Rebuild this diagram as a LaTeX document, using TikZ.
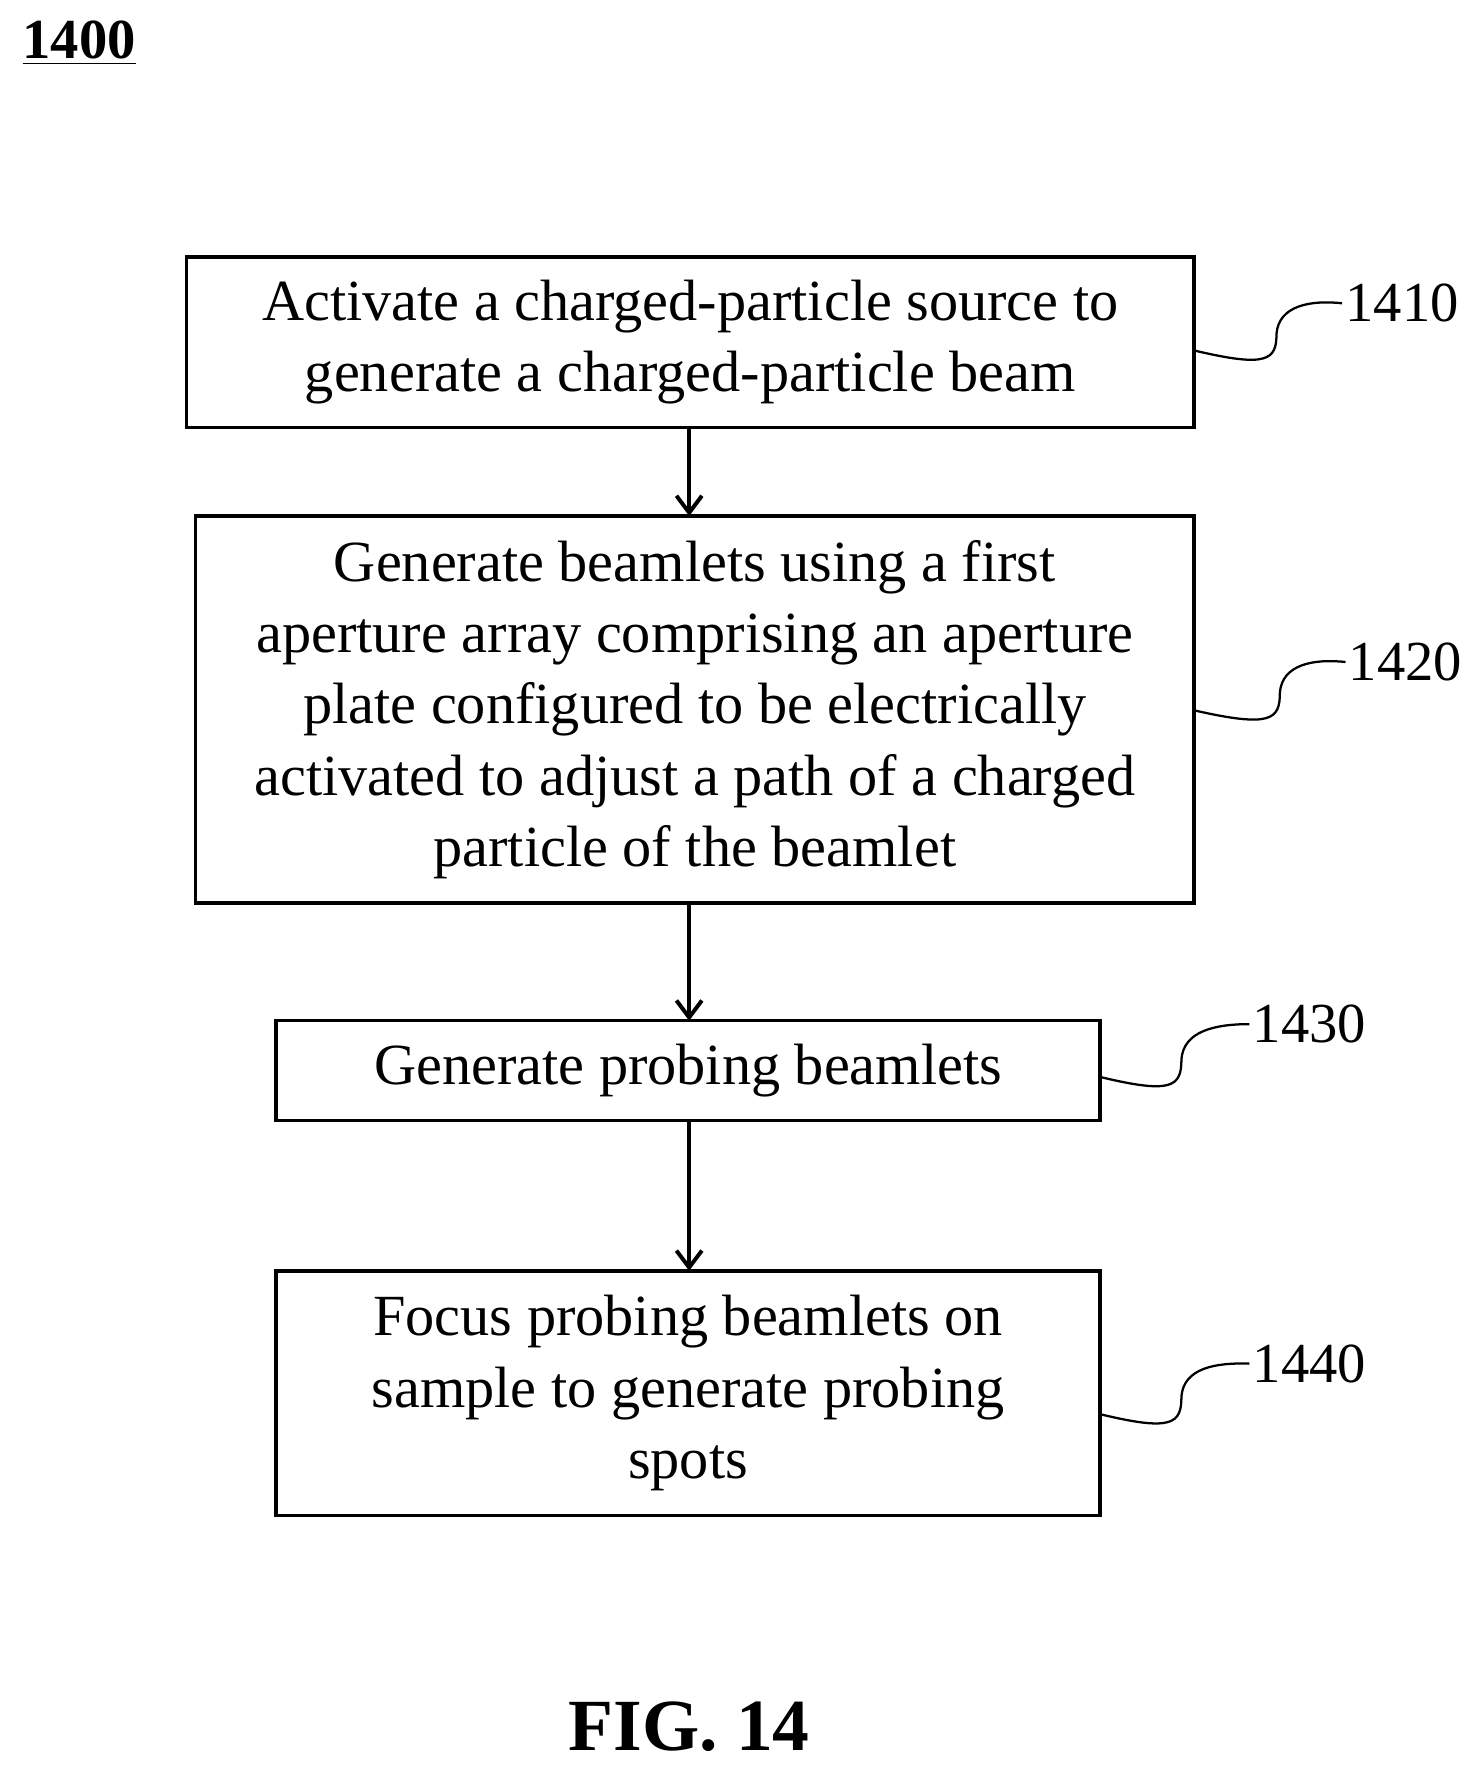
\documentclass[tikz,border=0pt]{standalone}
\usepackage{fontspec}
\usetikzlibrary{arrows.meta}
\setmainfont{Liberation Serif}
\begin{document}
\begin{tikzpicture}[x=0.4pt,y=-0.4pt,
  box/.style={draw,line width=1.2pt,inner sep=0pt},
  txt/.style={font=\fontsize{20.6}{25.2}\selectfont,align=center},
  lab/.style={font=\fontsize{20}{24}\selectfont,anchor=west,inner sep=1pt},
  arr/.style={-{Straight Barb[length=6pt,width=9pt]},line width=1.4pt},
  sq/.style={line width=0.8pt}]
\useasboundingbox (0,0) rectangle (1310,1565);
\node[box,minimum width=890*0.4pt,minimum height=151*0.4pt] (b1) at (610,302.5) {};
\node[txt] at (b1.center) {Activate a charged-particle source to\\generate a charged-particle beam};
\node[box,minimum width=882*0.4pt,minimum height=342*0.4pt] (b2) at (614,627) {};
\node[txt] at (b2.center) {Generate beamlets using a first\\aperture array comprising an aperture\\plate configured to be electrically\\activated to adjust a path of a charged\\particle of the beamlet};
\node[box,minimum width=728*0.4pt,minimum height=88*0.4pt] (b3) at (608,946) {};
\node[txt] at (b3.center) {Generate probing beamlets};
\node[box,minimum width=728*0.4pt,minimum height=216*0.4pt] (b4) at (608,1231) {};
\node[txt] at (b4.center) {Focus probing beamlets on\\sample to generate probing\\spots};
\coordinate (a1) at (609,378); \coordinate (a2) at (609,456);
\coordinate (a3) at (609,798); \coordinate (a4) at (609,902);
\coordinate (a5) at (609,990); \coordinate (a6) at (609,1123);
\draw[arr] (a1) -- (a2);
\draw[arr] (a3) -- (a4);
\draw[arr] (a5) -- (a6);
\node[lab] (l1) at (1186,268) {1410};
\node[lab] (l2) at (1189,585) {1420};
\node[lab] (l3) at (1104,905) {1430};
\node[lab] (l4) at (1104,1205) {1440};
\draw[sq] (b1.east|-0,310) .. controls (1120,325) and (1128,318) .. (1128,295) .. controls (1130,270) and (1158,265) .. (l1.west);
\draw[sq] (b2.east|-0,628) .. controls (1123,643) and (1131,636) .. (1131,612) .. controls (1133,587) and (1161,582) .. (l2.west);
\draw[sq] (b3.east|-0,952) .. controls (1036,967) and (1044,960) .. (1044,936) .. controls (1046,911) and (1074,905) .. (l3.west);
\draw[sq] (b4.east|-0,1250) .. controls (1036,1265) and (1044,1258) .. (1044,1234) .. controls (1046,1209) and (1074,1204) .. (l4.west);
\node[font=\fontsize{20}{24}\selectfont\bfseries] (t) at (70,38) {\underline{1400}};
\node[font=\fontsize{26}{30}\selectfont\bfseries] (f) at (609,1526) {FIG. 14};
\end{tikzpicture}
\end{document}
